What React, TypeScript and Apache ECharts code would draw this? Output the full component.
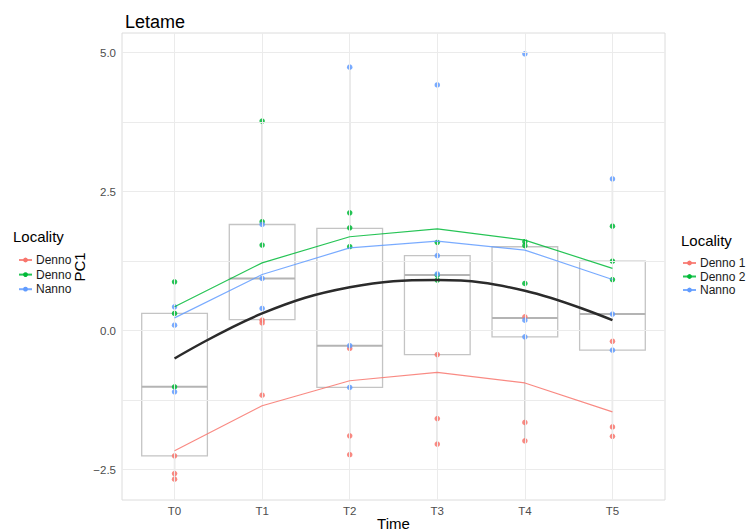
import React, { useEffect, useRef } from "react";
import * as echarts from "echarts";

const categories = ["T0", "T1", "T2", "T3", "T4", "T5"];
const localities = ["Denno 1", "Denno 2", "Nanno"];
const colors = ["#F8766D", "#00BA38", "#619CFF"];

// individual observations per time point
const denno1Points = [
  [-2.25, -2.57, -2.67],
  [0.19, 0.14, -1.16],
  [-0.32, -1.89, -2.23],
  [-0.43, -1.58, -2.04],
  [0.25, -1.65, -1.98],
  [-0.19, -1.73, -1.9],
];
const denno2Points = [
  [0.88, 0.31, -1.01],
  [3.77, 1.96, 1.54],
  [2.12, 1.85, 1.51],
  [1.59, 1.0, 0.91],
  [1.6, 1.53, 0.85],
  [1.88, 1.25, 0.92],
];
const nannoPoints = [
  [0.43, 0.1, -1.1],
  [1.91, 0.94, 0.4],
  [4.74, -0.27, -1.02],
  [4.42, 1.35, 1.02],
  [4.98, 0.19, -0.11],
  [2.73, 0.3, -0.35],
];

// per-locality lines
const denno1Line = [-2.16, -1.35, -0.9, -0.75, -0.94, -1.46];
const denno2Line = [0.43, 1.22, 1.69, 1.83, 1.63, 1.12];
const nannoLine = [0.23, 1.01, 1.49, 1.61, 1.45, 0.92];
// overall quadratic fit
const smoothFit = [-0.5, 0.31, 0.78, 0.91, 0.72, 0.19];

// boxplot statistics
const boxLow = [-2.67, -1.16, -2.23, -2.04, -1.98, -1.9];
const boxQ1 = [-2.25, 0.2, -1.02, -0.43, -0.11, -0.35];
const boxMedian = [-1.01, 0.94, -0.27, 1.0, 0.23, 0.3];
const boxQ3 = [0.31, 1.91, 1.84, 1.35, 1.51, 1.25];
const boxHigh = [0.88, 3.77, 4.74, 1.59, 1.6, 2.73];

const yTicks = [-2.5, 0, 2.5, 5];
const yGridValues = [-2.5, -1.25, 0, 1.25, 2.5, 3.75, 5];

const FONT = "Liberation Sans, Arial, sans-serif";

export default function App() {
  const ref = useRef<HTMLDivElement>(null);

  useEffect(() => {
    if (!ref.current) return;
    const chart = echarts.init(ref.current, null, { renderer: "svg" });

    const pointSets = [denno1Points, denno2Points, nannoPoints];
    const lineSets = [denno1Line, denno2Line, nannoLine];

    const boxData = categories.map((_, i) => [
      i,
      boxLow[i],
      boxQ1[i],
      boxMedian[i],
      boxQ3[i],
      boxHigh[i],
    ]);

    const scatterSeries = localities.map((name, k) => ({
      type: "scatter",
      name: name + " pts",
      data: pointSets[k].flatMap((vals, i) => vals.map((v) => [i, v])),
      symbol: "circle",
      symbolSize: 5.5,
      itemStyle: { color: colors[k], opacity: 0.85, borderWidth: 0 },
      z: 4,
      silent: true,
    }));

    const lineSeries = localities.map((name, k) => ({
      type: "line",
      name,
      data: lineSets[k].map((v, i) => [i, v]),
      symbol: "circle",
      symbolSize: 5,
      showSymbol: false,
      lineStyle: { color: colors[k], width: 1.2, opacity: 0.85 },
      itemStyle: { color: colors[k] },
      z: 5,
      silent: true,
    }));

    const legendBase = {
      data: localities,
      orient: "vertical",
      padding: 0,
      itemWidth: 13,
      itemHeight: 6,
      textStyle: { fontSize: 12, color: "#1a1a1a", fontFamily: FONT, padding: [0, 0, 0, -1] },
      selectedMode: false,
    };

    const option: any = {
      animation: false,
      textStyle: { fontFamily: FONT },
      title: {
        text: "Letame",
        left: 120,
        top: 8,
        textStyle: { fontSize: 18, fontWeight: "normal", color: "#000", fontFamily: FONT },
      },
      grid: {
        left: 122,
        top: 33,
        width: 543,
        height: 467,
        show: true,
        borderColor: "#dcdcdc",
        borderWidth: 1,
        backgroundColor: "transparent",
      },
      legend: [
        {
          ...legendBase,
          left: 682,
          top: 257,
          itemGap: 1.5,
        },
        {
          ...legendBase,
          left: 18,
          top: 254,
          itemGap: 2.6,
          formatter: (n: string) => n.slice(0, 5),
        },
      ],
      xAxis: {
        type: "value",
        min: -0.6,
        max: 5.6,
        axisLine: { show: false },
        axisTick: { show: false },
        splitLine: { show: false },
        axisLabel: {
          customValues: categories.map((_, i) => i),
          formatter: (v: number) => categories[Math.round(v)] ?? "",
          color: "#4d4d4d",
          fontSize: 11.5,
          margin: 5,
          fontFamily: FONT,
        },
      },
      yAxis: {
        type: "value",
        min: -3.045,
        max: 5.354,
        axisLine: { show: false },
        axisTick: { show: false },
        splitLine: { show: false },
        axisLabel: {
          customValues: yTicks,
          formatter: (v: number) => v.toFixed(1).replace("-", "\u2212"),
          color: "#4d4d4d",
          fontSize: 11.5,
          margin: 6,
          fontFamily: FONT,
        },
      },
      graphic: [
        {
          type: "text",
          left: 681,
          top: 233,
          style: { text: "Locality", fontSize: 15, fill: "#000", fontFamily: FONT },
        },
        {
          type: "text",
          left: 13,
          top: 229,
          style: { text: "Locality", fontSize: 15, fill: "#000", fontFamily: FONT },
        },
        {
          type: "text",
          x: 393.5,
          y: 523,
          style: {
            text: "Time",
            fontSize: 15,
            fill: "#000",
            fontFamily: FONT,
            align: "center",
            verticalAlign: "middle",
          },
        },
        {
          type: "text",
          x: 79,
          y: 267,
          rotation: Math.PI / 2,
          style: {
            text: "PC1",
            fontSize: 15,
            fill: "#000",
            fontFamily: FONT,
            align: "center",
            verticalAlign: "middle",
          },
        },
      ],
      series: [
        {
          type: "line",
          name: "grid",
          data: [],
          z: 0,
          silent: true,
          markLine: {
            silent: true,
            symbol: ["none", "none"],
            label: { show: false },
            lineStyle: { color: "#ebebeb", type: "solid", width: 1 },
            emphasis: { disabled: true },
            data: [
              ...yGridValues.map((v) => ({ yAxis: v })),
              ...categories.map((_, i) => ({ xAxis: i })),
            ],
          },
        },
        {
          type: "custom",
          name: "box",
          data: boxData,
          encode: { x: 0, y: [1, 2, 3, 4, 5] },
          z: 2,
          silent: true,
          renderItem: (params: any, api: any) => {
            const x = api.value(0);
            const p = (v: number) => api.coord([x, v]);
            const [cx, yLow] = p(api.value(1));
            const yQ1 = p(api.value(2))[1];
            const yMed = p(api.value(3))[1];
            const yQ3 = p(api.value(4))[1];
            const yHigh = p(api.value(5))[1];
            const half = api.size([0.75, 0])[0] / 2;
            const stroke = "#c4c4c4";
            return {
              type: "group",
              children: [
                {
                  type: "line",
                  shape: { x1: cx, y1: yQ1, x2: cx, y2: yLow },
                  style: { stroke, lineWidth: 1.3 },
                },
                {
                  type: "line",
                  shape: { x1: cx, y1: yQ3, x2: cx, y2: yHigh },
                  style: { stroke, lineWidth: 1.3 },
                },
                {
                  type: "rect",
                  shape: { x: cx - half, y: yQ3, width: half * 2, height: yQ1 - yQ3 },
                  style: { fill: "#ffffff", stroke, lineWidth: 1.3 },
                },
                {
                  type: "line",
                  shape: { x1: cx - half, y1: yMed, x2: cx + half, y2: yMed },
                  style: { stroke: "#b4b4b4", lineWidth: 2 },
                },
              ],
            };
          },
        },
        ...scatterSeries,
        ...lineSeries,
        {
          type: "line",
          name: "fit",
          data: smoothFit.map((v, i) => [i, v]),
          smooth: 0.4,
          showSymbol: false,
          symbol: "none",
          lineStyle: { color: "#2b2b2b", width: 2.5 },
          z: 6,
          silent: true,
        },
      ],
    };

    chart.setOption(option);
    return () => chart.dispose();
  }, []);

  return (
    <div
      ref={ref}
      style={{ position: "fixed", left: 0, top: 0, width: 747, height: 530, background: "#fff" }}
    />
  );
}
